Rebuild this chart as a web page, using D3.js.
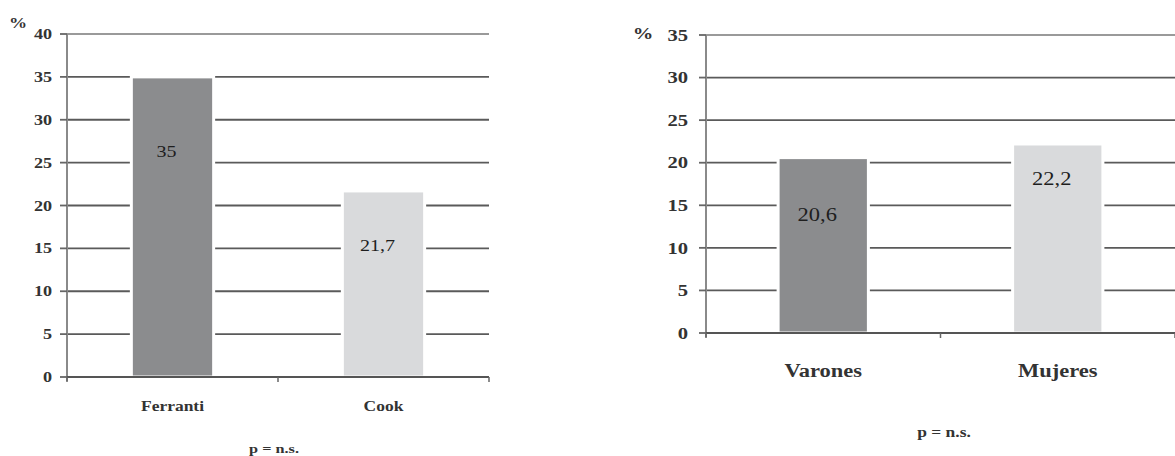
<!DOCTYPE html>
<html lang="es">
<head>
<meta charset="UTF-8">
<title>Porcentajes por grupo</title>
<script src="https://d3js.org/d3.v7.min.js"></script>
<style>
  body { margin: 0; background: #fff; }
  svg text { font-family: "Liberation Serif", "Times New Roman", serif; font-weight: bold; fill: #333; }
  svg text.val { font-family: "Liberation Serif", "DejaVu Serif", serif; font-weight: normal; fill: #1e1e1e; }
</style>
</head>
<body>
<div id="chart"></div>
<script>
// datos del gráfico izquierdo
const catsA = ["Ferranti", "Cook"];
const valsA = [35, 21.7];
const ticksA = [0, 5, 10, 15, 20, 25, 30, 35, 40];

// datos del gráfico derecho
const catsB = ["Varones", "Mujeres"];
const valsB = [20.6, 22.2];
const ticksB = [0, 5, 10, 15, 20, 25, 30, 35];

const fills = ["#8b8c8e", "#d9dadc"];
const fmt = d3.formatLocale({ decimal: ",", thousands: ".", grouping: [3], currency: ["", ""] }).format("~r");

const W = 1175, H = 456, SX = 1.25;
const svg = d3.select("#chart").append("svg").attr("width", W).attr("height", H);

function txt(g, x, y, s, size, anchor) {
  return g.append("text")
    .attr("transform", `translate(${x},${y}) scale(${SX},1)`)
    .attr("text-anchor", anchor)
    .style("font-size", size + "px")
    .text(s);
}

function drawChart(o) {
  const g = svg.append("g");
  const x = d3.scaleBand().domain(o.cats).range([o.x0, o.x1]).padding(0);
  const y = d3.scaleLinear().domain([0, d3.max(o.ticks)]).range([o.y0, o.y1]);

  // líneas de cuadrícula
  g.selectAll("line.grid").data(o.ticks.filter(t => t > 0)).enter().append("line")
    .attr("x1", o.x0).attr("x2", o.x1)
    .attr("y1", d => y(d)).attr("y2", d => y(d))
    .attr("stroke", d => d === d3.max(o.ticks) ? "#9a9a9a" : "#5a5a5a")
    .attr("stroke-width", 1.8);

  // eje y
  g.append("line").attr("x1", o.x0).attr("x2", o.x0).attr("y1", y(d3.max(o.ticks))).attr("y2", o.y0 + 4)
    .attr("stroke", "#8a8a8a").attr("stroke-width", 2);
  g.selectAll("line.ytick").data(o.ticks).enter().append("line")
    .attr("x1", o.x0 - 7).attr("x2", o.x0)
    .attr("y1", d => y(d)).attr("y2", d => y(d))
    .attr("stroke", "#666").attr("stroke-width", 1.8);
  o.ticks.forEach(t => txt(g, o.x0 - o.labGap, y(t) + o.tickSize * 0.35, t, o.tickSize, "end"));
  txt(g, o.pctX, o.pctY, "%", o.tickSize, "middle");

  // barras
  const bw = x.bandwidth() * o.barFrac;
  g.selectAll("rect").data(o.vals).enter().append("rect")
    .attr("x", (d, i) => x(o.cats[i]) + x.bandwidth() / 2 - bw / 2)
    .attr("y", d => y(d))
    .attr("width", bw)
    .attr("height", d => y(0) - y(d))
    .attr("fill", (d, i) => fills[i])
    .attr("stroke", "#fff").attr("stroke-width", 3);

  // eje x
  g.append("line").attr("x1", o.x0).attr("x2", o.x1).attr("y1", o.y0).attr("y2", o.y0)
    .attr("stroke", "#555").attr("stroke-width", 2);
  const xt = [o.x0].concat(o.cats.map(c => x(c) + x.bandwidth()));
  g.selectAll("line.xtick").data(xt).enter().append("line")
    .attr("x1", d => d).attr("x2", d => d).attr("y1", o.y0).attr("y2", o.y0 + 5)
    .attr("stroke", "#666").attr("stroke-width", 1.5);

  o.cats.forEach((c, i) => {
    const cx = x(c) + x.bandwidth() / 2;
    txt(g, cx, o.catY, c, o.catSize, "middle");
    txt(g, cx - 6, y(o.vals[i]) + o.valDy[i], fmt(o.vals[i]), o.valSize, "middle").attr("class", "val");
  });
  txt(g, o.pX, o.pY, "p = n.s.", o.pSize, "middle");
}

drawChart({
  cats: catsA, vals: valsA, ticks: ticksA,
  x0: 67, x1: 489, y0: 377, y1: 34,
  barFrac: 0.39, labGap: 15, tickSize: 14.5, pctX: 18, pctY: 28,
  catY: 411, catSize: 14, valSize: 16, valDy: [80, 60],
  pX: 274, pY: 453, pSize: 13
});

drawChart({
  cats: catsB, vals: valsB, ticks: ticksB,
  x0: 706, x1: 1175, y0: 333, y1: 35,
  barFrac: 0.385, labGap: 18, tickSize: 16.5, pctX: 643, pctY: 39,
  catY: 377, catSize: 18, valSize: 18, valDy: [63, 41],
  pX: 944, pY: 437, pSize: 14
});
</script>
</body>
</html>
